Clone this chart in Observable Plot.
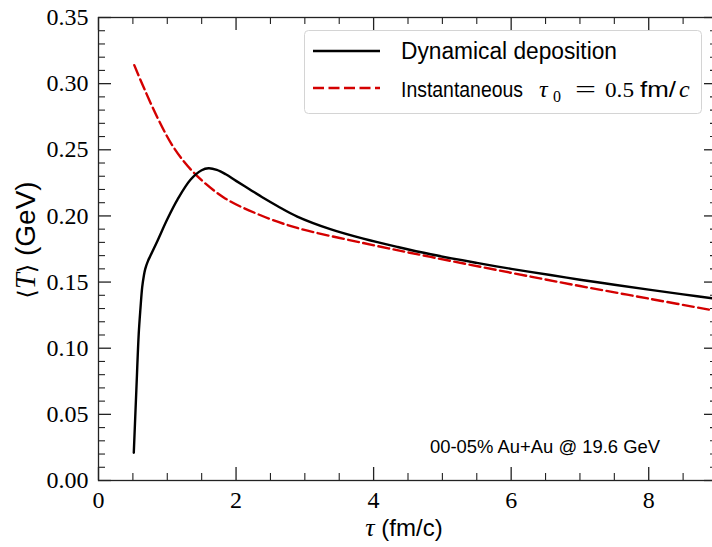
<!DOCTYPE html>
<html><head><meta charset="utf-8">
<script src="https://cdn.jsdelivr.net/npm/d3@7"></script>
<script src="https://cdn.jsdelivr.net/npm/@observablehq/plot@0.6"></script>
<style>
html,body{margin:0;padding:0;background:#fff;overflow:hidden;width:712px;height:547px;}
#wrap{position:relative;width:720px;height:547px;}
#wrap svg{display:block;}
#overlay{position:absolute;left:0;top:0;pointer-events:none;}
</style></head>
<body><div id="wrap"></div>
<script>
// ---- data ----
const tauDyn = [0.513, 0.55, 0.585, 0.61, 0.635, 0.66, 0.68, 0.72, 0.756, 0.86, 1.00, 1.15, 1.34, 1.50, 1.60, 1.72, 1.85, 2.00, 2.20, 2.40, 2.60, 2.89, 3.37, 3.85, 4.35, 4.83, 5.50, 6.00, 6.57, 7.00, 7.50, 8.00, 8.50, 9.00];
const tDyn   = [0.021, 0.068, 0.111, 0.130, 0.146, 0.155, 0.160, 0.166, 0.170, 0.1815, 0.1975, 0.2125, 0.2275, 0.2345, 0.236, 0.2348, 0.2315, 0.2265, 0.2200, 0.2135, 0.2075, 0.1995, 0.1900, 0.1828, 0.1765, 0.1710, 0.1645, 0.1600, 0.1553, 0.1518, 0.1480, 0.1443, 0.1407, 0.1372];
const tauInst = [0.52, 0.65, 0.86, 1.09, 1.38, 1.82, 2.31, 2.85, 3.85, 4.83, 6.00, 7.00, 8.00, 9.00];
const tInst   = [0.314, 0.298, 0.274, 0.252, 0.233, 0.214, 0.2015, 0.1915, 0.1795, 0.169, 0.157, 0.147, 0.1375, 0.128];

const xTicks = [0, 2, 4, 6, 8];
const xTickLabels = ["0", "2", "4", "6", "8"];
const xMinor = [0.5, 1, 1.5, 2.5, 3, 3.5, 4.5, 5, 5.5, 6.5, 7, 7.5, 8.5, 9];
const yTicks = [0, 0.05, 0.10, 0.15, 0.20, 0.25, 0.30, 0.35];
const yTickLabels = ["0.00", "0.05", "0.10", "0.15", "0.20", "0.25", "0.30", "0.35"];
const yMinor = d3.range(0, 36).map(i => i / 100).filter(v => Math.round(v * 100) % 5 !== 0);

const seriesNames = ["Dynamical deposition", "Instantaneous"];
const annotation = "00-05% Au+Au @ 19.6 GeV";

// ---- layout ----
const W = 720, H = 547, mL = 98, mR = 3, mT = 17, mB = 67;
const innerW = W - mL - mR, innerH = H - mT - mB;
const RED = "#d40000";
const tickCol = "#222";
const SANS = "'Liberation Sans', Arial, sans-serif";
const SERIF = "'Liberation Serif', 'Times New Roman', Times, 'Nimbus Roman', 'Noto Serif', 'DejaVu Serif', serif";

const dyn = tauDyn.map((x, i) => ({x, y: tDyn[i]}));
const inst = tauInst.map((x, i) => ({x, y: tInst[i]}));

const chart = Plot.plot({
  width: W, height: H,
  marginLeft: mL, marginRight: mR, marginTop: mT, marginBottom: mB,
  x: {domain: [0, 9]},
  y: {domain: [0, 0.35]},
  style: {fontFamily: SERIF, fontSize: "24px", color: "#000", background: "transparent"},
  marks: [
    Plot.line(inst, {x: "x", y: "y", stroke: RED, strokeWidth: 2.4, strokeDasharray: "11,4.5", curve: "catmull-rom", clip: true}),
    Plot.line(dyn, {x: "x", y: "y", stroke: "#000", strokeWidth: 2.4, curve: "catmull-rom", clip: true}),
    // inward ticks, all four sides
    Plot.tickX(xTicks, {x: d => d, insetTop: innerH - 13, stroke: tickCol, strokeWidth: 1.3}),
    Plot.tickX(xTicks, {x: d => d, insetBottom: innerH - 13, stroke: tickCol, strokeWidth: 1.3}),
    Plot.tickX(xMinor, {x: d => d, insetTop: innerH - 7, stroke: tickCol, strokeWidth: 1.1}),
    Plot.tickX(xMinor, {x: d => d, insetBottom: innerH - 7, stroke: tickCol, strokeWidth: 1.1}),
    Plot.tickY(yTicks, {y: d => d, insetRight: innerW - 13, stroke: tickCol, strokeWidth: 1.3}),
    Plot.tickY(yTicks, {y: d => d, insetLeft: innerW - 13, stroke: tickCol, strokeWidth: 1.3}),
    Plot.tickY(yMinor, {y: d => d, insetRight: innerW - 7, stroke: tickCol, strokeWidth: 1.1}),
    Plot.tickY(yMinor, {y: d => d, insetLeft: innerW - 7, stroke: tickCol, strokeWidth: 1.1}),
    Plot.axisX(xTicks, {tickSize: 0, tickPadding: 10, fontSize: 24, tickFormat: d => xTickLabels[xTicks.indexOf(d)], label: null}),
    Plot.axisY(yTicks, {tickSize: 0, tickPadding: 10, fontSize: 24, tickFormat: d => yTickLabels[yTicks.indexOf(d)], label: null}),
    Plot.frame({stroke: tickCol, strokeWidth: 1.3})
  ]
});
d3.select(chart).selectAll("text").attr("font-family", SERIF).style("font-family", SERIF).style("fill", "#000");
const wrap = document.getElementById("wrap");
wrap.appendChild(chart);

// ---- overlay: legend, annotation, axis labels ----
const svg = d3.select(wrap).append("svg").attr("id", "overlay")
  .attr("width", W).attr("height", H).attr("viewBox", `0 0 ${W} ${H}`);

function piece(g, str, x, y, family, size, opts = {}) {
  const t = g.append("text").attr("x", x).attr("y", y).attr("font-family", family)
    .attr("font-size", size).attr("fill", "#000").text(str);
  if (opts.italic) t.attr("font-style", "italic");
  if (opts.len) t.attr("textLength", opts.len).attr("lengthAdjust", "spacingAndGlyphs");
  return t;
}

// legend box
const lg = svg.append("g");
lg.append("rect").attr("x", 304.5).attr("y", 30.5).attr("width", 397).attr("height", 83).attr("rx", 4)
  .attr("fill", "rgba(255,255,255,0.85)").attr("stroke", "#d4d4d4").attr("stroke-width", 1);
lg.append("line").attr("x1", 313).attr("x2", 380).attr("y1", 51).attr("y2", 51)
  .attr("stroke", "#000").attr("stroke-width", 2.4);
lg.append("line").attr("x1", 313).attr("x2", 380).attr("y1", 88).attr("y2", 88)
  .attr("stroke", RED).attr("stroke-width", 2.4).attr("stroke-dasharray", "11,4.5");
piece(lg, seriesNames[0], 401, 59, SANS, 23, {len: 216});
piece(lg, seriesNames[1], 401, 97, SANS, 21.5, {len: 122});
piece(lg, "τ", 539, 97, SERIF, 24, {italic: true});
piece(lg, "0", 553, 102, SERIF, 16);
piece(lg, "=", 575, 97, SERIF, 24, {len: 21});
piece(lg, "0.5", 605, 97, SERIF, 22, {len: 29});
piece(lg, "fm/", 640, 97, SANS, 22, {len: 36});
piece(lg, "c", 679, 97, SERIF, 24, {italic: true});

// annotation
piece(svg, annotation, 430, 453, SANS, 18.5, {len: 230});

// x label
const xl = svg.append("text").attr("x", 404).attr("y", 536).attr("text-anchor", "middle")
  .attr("font-family", SANS).attr("font-size", 24);
xl.append("tspan").attr("font-family", SERIF).attr("font-style", "italic").attr("font-size", 26).text("τ");
xl.append("tspan").text(" (fm/c)");

// y label
const yl = svg.append("text").attr("transform", "translate(35,240) rotate(-90)").attr("text-anchor", "middle")
  .attr("font-family", SANS).attr("font-size", 28);
yl.append("tspan").attr("font-family", "'DejaVu Sans', sans-serif").attr("font-size", 24).text("⟨");
yl.append("tspan").attr("font-family", SERIF).attr("font-style", "italic").attr("font-size", 29).text("T");
yl.append("tspan").attr("font-family", "'DejaVu Sans', sans-serif").attr("font-size", 24).text("⟩");
yl.append("tspan").text(" (GeV)");
</script>
</body></html>
